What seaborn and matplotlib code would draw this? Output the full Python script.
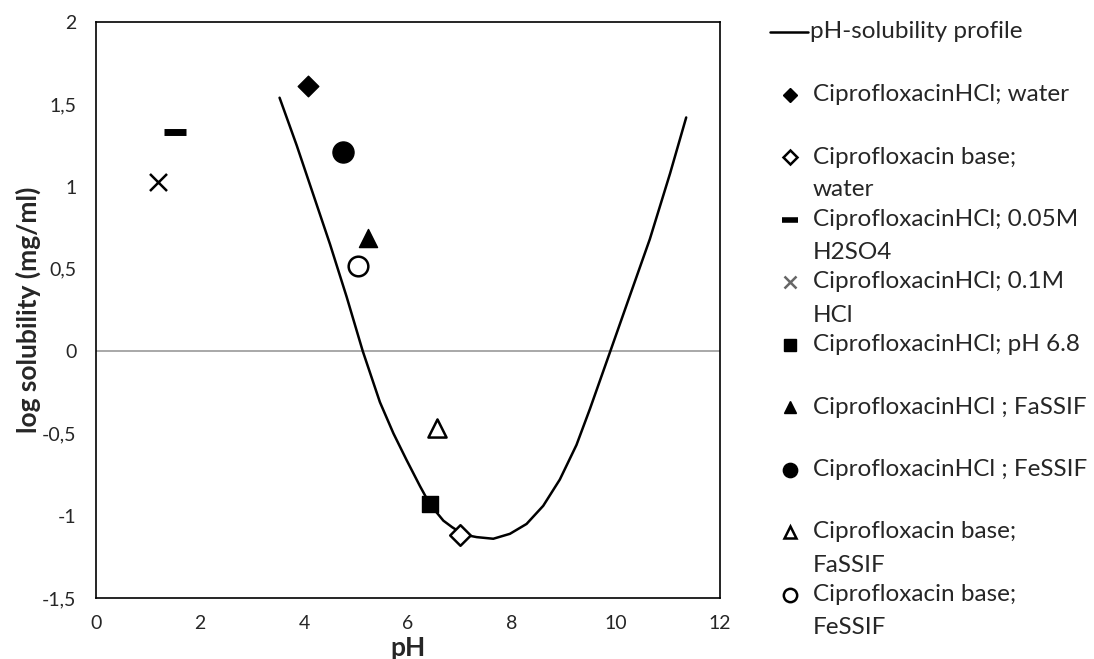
import numpy as np
import pandas as pd
import seaborn as sns
import matplotlib.pyplot as plt
from matplotlib.lines import Line2D
from matplotlib.ticker import FuncFormatter

# curva pH-solubilidad
curve_ph = [3.53, 3.86, 4.18, 4.50, 4.82, 5.13, 5.46, 5.72, 5.97, 6.23, 6.42, 6.68,
            6.85, 7.00, 7.16, 7.32, 7.64, 7.96, 8.28, 8.60, 8.92, 9.24, 9.50, 9.88,
            10.27, 10.65, 11.04, 11.35]
curve_logs = [1.54, 1.25, 0.95, 0.65, 0.33, 0.00, -0.31, -0.50, -0.66, -0.82, -0.93,
              -1.03, -1.07, -1.10, -1.12, -1.13, -1.14, -1.11, -1.05, -0.94, -0.78,
              -0.57, -0.35, -0.01, 0.34, 0.68, 1.08, 1.42]

# puntos experimentales
labels = ["CiprofloxacinHCl; water", "Ciprofloxacin base;\nwater",
          "CiprofloxacinHCl; 0.05M\nH2SO4", "CiprofloxacinHCl; 0.1M\nHCl",
          "CiprofloxacinHCl; pH 6.8", "CiprofloxacinHCl ; FaSSIF",
          "CiprofloxacinHCl ; FeSSIF", "Ciprofloxacin base;\nFaSSIF",
          "Ciprofloxacin base;\nFeSSIF"]
point_ph = [4.08, 7.00, 1.52, 1.19, 6.42, 5.23, 4.75, 6.56, 5.04]
point_logs = [1.61, -1.12, 1.33, 1.03, -0.93, 0.69, 1.21, -0.47, 0.52]

x_ticks = [0, 2, 4, 6, 8, 10, 12]
y_ticks = [-1.5, -1, -0.5, 0, 0.5, 1, 1.5, 2]

# estilo de cada marcador
estilos = [
    dict(marker="D", s=110, fc="black", ec="black", lw=1),
    dict(marker="D", s=110, fc="white", ec="black", lw=1.8),
    dict(marker="_", s=260, fc="black", ec="black", lw=5),
    dict(marker="x", s=150, fc="black", ec="black", lw=1.8),
    dict(marker="s", s=140, fc="black", ec="black", lw=1),
    dict(marker="^", s=170, fc="black", ec="black", lw=1),
    dict(marker="o", s=230, fc="black", ec="black", lw=1),
    dict(marker="^", s=170, fc="white", ec="black", lw=1.8),
    dict(marker="o", s=200, fc="white", ec="black", lw=1.8),
]

df_curve = pd.DataFrame({"pH": curve_ph, "logS": curve_logs})

sns.set_theme(style="white")
plt.rcParams["font.family"] = ["Lato", "DejaVu Sans"]

fig = plt.figure(figsize=(10.94, 6.59), dpi=100)
ax = fig.add_axes([96 / 1094, 1 - 598 / 659, 624 / 1094, 576 / 659])

ax.axhline(0, color="#999999", lw=1.2, zorder=1)
sns.lineplot(data=df_curve, x="pH", y="logS", color="black", lw=1.8, ax=ax,
             sort=False, zorder=2)

for i in range(len(labels)):
    st = estilos[i]
    sns.scatterplot(x=[point_ph[i]], y=[point_logs[i]], marker=st["marker"],
                    s=st["s"], color=st["fc"], edgecolor=st["ec"],
                    linewidth=st["lw"], ax=ax, zorder=3)

ax.set_xlim(0, 12)
ax.set_ylim(-1.5, 2)
ax.set_xticks(x_ticks)
ax.set_yticks(y_ticks)
fmt = FuncFormatter(lambda v, p: f"{v:g}".replace(".", ","))
ax.xaxis.set_major_formatter(fmt)
ax.yaxis.set_major_formatter(fmt)
ax.tick_params(length=0, labelsize=14)
ax.tick_params(axis="x", pad=12)
ax.tick_params(axis="y", pad=14)
for sp in ax.spines.values():
    sp.set_color("black")
    sp.set_linewidth(1.2)
ax.set_xlabel("pH", fontsize=19, weight="bold", labelpad=3)
ax.set_ylabel("log solubility (mg/ml)", fontsize=19, weight="bold", labelpad=1)

# leyenda manual a la derecha
def fx(px):
    return px / 1094

def fy(py):
    return 1 - py / 659

fs_leg = 17.5
y0 = 32
fig.add_artist(Line2D([fx(770), fx(808)], [fy(y0), fy(y0)], color="black", lw=1.8))
fig.text(fx(810), fy(y0), "pH-solubility profile", fontsize=fs_leg, va="center")
for i, lab in enumerate(labels):
    yy = y0 + 62.5 * (i + 1)
    st = estilos[i]
    ms = np.sqrt(st["s"]) * 0.68
    mk_color = "#666666" if st["marker"] == "x" else st["ec"]
    mew = st["lw"] * 0.8 if st["marker"] == "_" else st["lw"]
    fig.add_artist(Line2D([fx(790)], [fy(yy)], marker=st["marker"], ms=ms,
                          mfc=st["fc"], mec=mk_color, mew=mew, ls="none"))
    for k, linea in enumerate(lab.split("\n")):
        fig.text(fx(813), fy(yy + 33 * k), linea, fontsize=fs_leg, va="center")

fig.savefig("out.png", dpi=100)
